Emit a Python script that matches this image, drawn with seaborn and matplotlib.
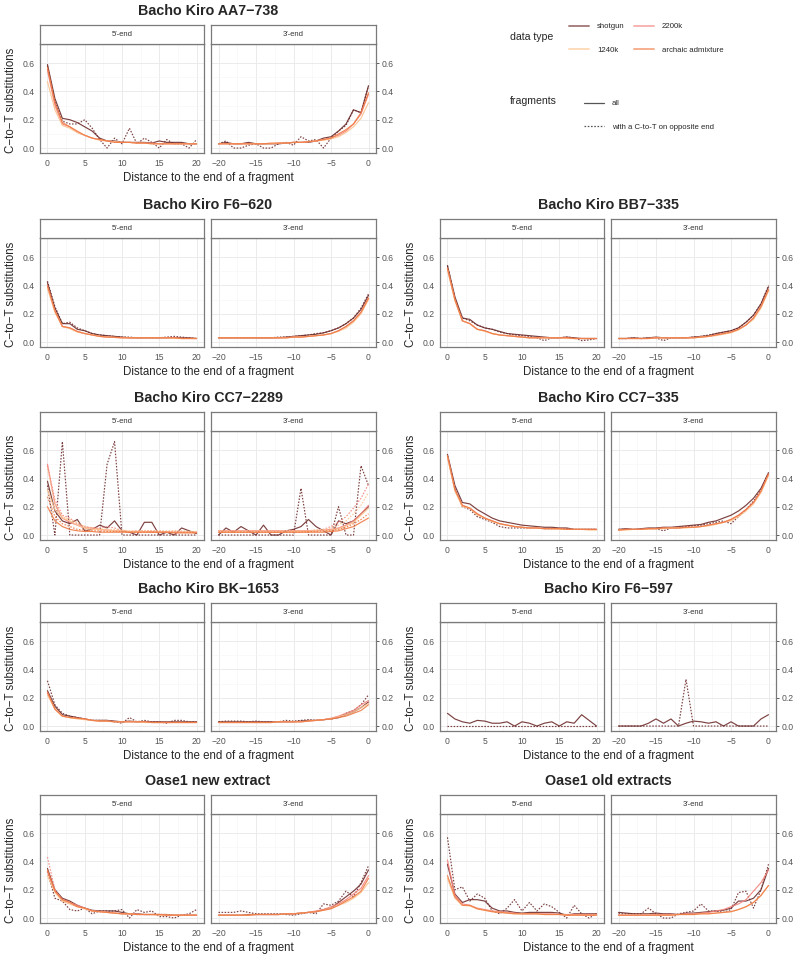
import pandas as pd
import matplotlib
matplotlib.use("Agg")
import matplotlib.pyplot as plt
import seaborn as sns
from matplotlib.lines import Line2D

# --- positions along the read ---
POS_5 = list(range(0, 21))
POS_3 = list(range(-20, 1))

# --- Bacho Kiro AA7-738 ---
AA7_5_SG = [0.59, 0.35, 0.21, 0.20, 0.18, 0.15, 0.12, 0.07, 0.05, 0.05, 0.04, 0.04, 0.04, 0.04, 0.035, 0.05, 0.04, 0.04, 0.04, 0.03, 0.03]
AA7_5_SG_OPP = [0.58, 0.33, 0.19, 0.17, 0.17, 0.20, 0.14, 0.06, 0.00, 0.07, 0.03, 0.14, 0.03, 0.07, 0.04, 0.00, 0.06, 0.03, 0.03, 0.00, 0.06]
AA7_5_2200K = [0.55, 0.30, 0.17, 0.15, 0.11, 0.09, 0.07, 0.06, 0.05, 0.045, 0.04, 0.04, 0.035, 0.035, 0.035, 0.03, 0.03, 0.03, 0.03, 0.03, 0.03]
AA7_5_1240K = [0.47, 0.27, 0.16, 0.14, 0.11, 0.09, 0.07, 0.055, 0.05, 0.045, 0.04, 0.04, 0.035, 0.035, 0.03, 0.03, 0.03, 0.03, 0.03, 0.03, 0.03]
AA7_5_ARCH = [0.57, 0.32, 0.18, 0.15, 0.12, 0.09, 0.07, 0.06, 0.05, 0.04, 0.04, 0.04, 0.035, 0.035, 0.03, 0.03, 0.03, 0.03, 0.03, 0.03, 0.03]
AA7_3_SG = [0.03, 0.04, 0.03, 0.03, 0.04, 0.03, 0.03, 0.03, 0.03, 0.035, 0.04, 0.04, 0.04, 0.05, 0.07, 0.08, 0.12, 0.17, 0.27, 0.25, 0.44]
AA7_3_SG_OPP = [0.03, 0.05, 0.00, 0.00, 0.02, 0.03, 0.00, 0.00, 0.03, 0.04, 0.02, 0.08, 0.05, 0.06, 0.00, 0.07, 0.12, 0.16, 0.27, 0.25, 0.44]
AA7_3_2200K = [0.03, 0.03, 0.03, 0.03, 0.03, 0.03, 0.03, 0.03, 0.035, 0.035, 0.04, 0.04, 0.045, 0.05, 0.06, 0.07, 0.09, 0.12, 0.17, 0.24, 0.38]
AA7_3_1240K = [0.03, 0.03, 0.03, 0.03, 0.03, 0.03, 0.03, 0.03, 0.035, 0.035, 0.04, 0.04, 0.045, 0.05, 0.055, 0.065, 0.08, 0.11, 0.15, 0.21, 0.32]
AA7_3_ARCH = [0.03, 0.03, 0.03, 0.03, 0.03, 0.03, 0.03, 0.035, 0.035, 0.035, 0.04, 0.04, 0.045, 0.05, 0.06, 0.07, 0.10, 0.13, 0.17, 0.25, 0.39]

# --- Bacho Kiro F6-620 ---
F620_5_SG = [0.42, 0.24, 0.13, 0.13, 0.09, 0.08, 0.06, 0.05, 0.045, 0.04, 0.035, 0.03, 0.03, 0.03, 0.03, 0.03, 0.03, 0.03, 0.03, 0.03, 0.025]
F620_5_SG_OPP = [0.43, 0.25, 0.13, 0.14, 0.10, 0.08, 0.06, 0.05, 0.045, 0.04, 0.035, 0.035, 0.03, 0.03, 0.03, 0.03, 0.035, 0.04, 0.035, 0.03, 0.025]
F620_5_2200K = [0.39, 0.22, 0.11, 0.10, 0.075, 0.06, 0.05, 0.04, 0.035, 0.033, 0.03, 0.03, 0.03, 0.03, 0.03, 0.03, 0.03, 0.03, 0.025, 0.025, 0.025]
F620_5_1240K = [0.38, 0.21, 0.11, 0.095, 0.07, 0.06, 0.05, 0.04, 0.035, 0.033, 0.03, 0.03, 0.03, 0.03, 0.03, 0.03, 0.03, 0.025, 0.025, 0.025, 0.025]
F620_5_ARCH = [0.40, 0.22, 0.11, 0.10, 0.075, 0.06, 0.05, 0.04, 0.035, 0.033, 0.03, 0.03, 0.03, 0.03, 0.03, 0.03, 0.03, 0.03, 0.025, 0.025, 0.025]
F620_3_SG = [0.03, 0.03, 0.03, 0.03, 0.03, 0.03, 0.03, 0.03, 0.03, 0.035, 0.04, 0.045, 0.05, 0.055, 0.065, 0.08, 0.10, 0.13, 0.17, 0.23, 0.33]
F620_3_SG_OPP = [0.03, 0.03, 0.03, 0.03, 0.03, 0.03, 0.03, 0.03, 0.035, 0.035, 0.04, 0.045, 0.05, 0.06, 0.065, 0.08, 0.10, 0.13, 0.17, 0.24, 0.34]
F620_3_2200K = [0.03, 0.03, 0.03, 0.03, 0.03, 0.03, 0.03, 0.03, 0.03, 0.03, 0.035, 0.035, 0.04, 0.045, 0.05, 0.06, 0.08, 0.11, 0.15, 0.21, 0.31]
F620_3_1240K = [0.03, 0.03, 0.03, 0.03, 0.03, 0.03, 0.03, 0.03, 0.03, 0.03, 0.035, 0.035, 0.04, 0.045, 0.05, 0.06, 0.075, 0.10, 0.14, 0.20, 0.30]
F620_3_ARCH = [0.03, 0.03, 0.03, 0.03, 0.03, 0.03, 0.03, 0.03, 0.03, 0.03, 0.035, 0.035, 0.04, 0.045, 0.05, 0.06, 0.08, 0.11, 0.15, 0.21, 0.31]

# --- Bacho Kiro BB7-335 ---
BB7_5_SG = [0.54, 0.32, 0.17, 0.16, 0.12, 0.10, 0.09, 0.075, 0.06, 0.055, 0.05, 0.045, 0.04, 0.035, 0.03, 0.03, 0.035, 0.03, 0.025, 0.025, 0.025]
BB7_5_SG_OPP = [0.54, 0.31, 0.17, 0.15, 0.12, 0.10, 0.09, 0.07, 0.06, 0.05, 0.045, 0.04, 0.03, 0.01, 0.03, 0.03, 0.035, 0.03, 0.01, 0.015, 0.025]
BB7_5_2200K = [0.52, 0.30, 0.15, 0.13, 0.09, 0.08, 0.06, 0.05, 0.045, 0.04, 0.035, 0.03, 0.03, 0.03, 0.03, 0.03, 0.03, 0.025, 0.025, 0.025, 0.025]
BB7_5_1240K = [0.51, 0.29, 0.15, 0.13, 0.09, 0.075, 0.06, 0.05, 0.045, 0.04, 0.035, 0.03, 0.03, 0.03, 0.03, 0.03, 0.025, 0.025, 0.025, 0.025, 0.025]
BB7_5_ARCH = [0.52, 0.30, 0.15, 0.13, 0.09, 0.08, 0.06, 0.05, 0.045, 0.04, 0.035, 0.03, 0.03, 0.03, 0.03, 0.03, 0.03, 0.025, 0.025, 0.025, 0.025]
BB7_3_SG = [0.025, 0.025, 0.03, 0.025, 0.03, 0.035, 0.03, 0.03, 0.03, 0.03, 0.035, 0.04, 0.045, 0.06, 0.07, 0.08, 0.10, 0.14, 0.19, 0.27, 0.39]
BB7_3_SG_OPP = [0.025, 0.025, 0.03, 0.025, 0.03, 0.03, 0.01, 0.03, 0.03, 0.03, 0.035, 0.04, 0.05, 0.06, 0.07, 0.08, 0.10, 0.14, 0.19, 0.27, 0.40]
BB7_3_2200K = [0.025, 0.025, 0.025, 0.025, 0.025, 0.03, 0.03, 0.03, 0.03, 0.03, 0.03, 0.035, 0.04, 0.05, 0.06, 0.07, 0.09, 0.12, 0.17, 0.25, 0.37]
BB7_3_1240K = [0.025, 0.025, 0.025, 0.025, 0.025, 0.03, 0.03, 0.03, 0.03, 0.03, 0.03, 0.035, 0.04, 0.045, 0.055, 0.065, 0.085, 0.12, 0.16, 0.24, 0.36]
BB7_3_ARCH = [0.025, 0.025, 0.025, 0.025, 0.025, 0.03, 0.03, 0.03, 0.03, 0.03, 0.03, 0.035, 0.04, 0.05, 0.06, 0.07, 0.09, 0.12, 0.17, 0.25, 0.37]

# --- Bacho Kiro CC7-2289 ---
CC2289_5_SG = [0.38, 0.17, 0.10, 0.08, 0.11, 0.03, 0.04, 0.07, 0.05, 0.10, 0.03, 0.02, 0.00, 0.09, 0.09, 0.00, 0.02, 0.00, 0.05, 0.03, 0.01]
CC2289_5_SG_OPP = [0.35, 0.00, 0.66, 0.00, 0.00, 0.00, 0.00, 0.00, 0.50, 0.66, 0.00, 0.00, 0.00, 0.00, 0.00, 0.00, 0.00, 0.00, 0.00, 0.00, 0.00]
CC2289_5_2200K = [0.50, 0.22, 0.12, 0.09, 0.07, 0.05, 0.05, 0.04, 0.035, 0.03, 0.03, 0.025, 0.025, 0.025, 0.025, 0.02, 0.02, 0.02, 0.02, 0.02, 0.02]
CC2289_5_2200K_OPP = [0.49, 0.25, 0.14, 0.12, 0.08, 0.06, 0.05, 0.05, 0.06, 0.05, 0.03, 0.02, 0.03, 0.03, 0.03, 0.03, 0.02, 0.03, 0.02, 0.02, 0.02]
CC2289_5_1240K = [0.32, 0.18, 0.12, 0.10, 0.07, 0.05, 0.04, 0.04, 0.035, 0.03, 0.03, 0.025, 0.025, 0.025, 0.02, 0.02, 0.02, 0.02, 0.02, 0.02, 0.02]
CC2289_5_1240K_OPP = [0.47, 0.22, 0.13, 0.11, 0.09, 0.06, 0.05, 0.045, 0.04, 0.04, 0.035, 0.03, 0.03, 0.03, 0.03, 0.03, 0.03, 0.03, 0.03, 0.025, 0.025]
CC2289_5_ARCH = [0.20, 0.10, 0.06, 0.04, 0.03, 0.025, 0.025, 0.02, 0.02, 0.02, 0.02, 0.02, 0.02, 0.02, 0.02, 0.02, 0.02, 0.015, 0.015, 0.015, 0.015]
CC2289_5_ARCH_OPP = [0.27, 0.13, 0.08, 0.06, 0.04, 0.035, 0.03, 0.03, 0.025, 0.025, 0.025, 0.02, 0.02, 0.02, 0.02, 0.02, 0.02, 0.02, 0.02, 0.02, 0.02]
CC2289_3_SG = [0.00, 0.05, 0.02, 0.06, 0.03, 0.00, 0.07, 0.00, 0.00, 0.03, 0.04, 0.06, 0.11, 0.06, 0.03, 0.00, 0.10, 0.08, 0.10, 0.15, 0.20]
CC2289_3_SG_OPP = [0.00, 0.00, 0.00, 0.00, 0.00, 0.00, 0.00, 0.00, 0.00, 0.00, 0.00, 0.33, 0.00, 0.00, 0.00, 0.00, 0.20, 0.00, 0.00, 0.49, 0.35]
CC2289_3_2200K = [0.03, 0.03, 0.03, 0.03, 0.03, 0.03, 0.03, 0.03, 0.03, 0.03, 0.03, 0.03, 0.03, 0.03, 0.035, 0.04, 0.05, 0.07, 0.10, 0.15, 0.21]
CC2289_3_2200K_OPP = [0.03, 0.03, 0.03, 0.03, 0.03, 0.03, 0.03, 0.03, 0.03, 0.03, 0.03, 0.03, 0.03, 0.035, 0.04, 0.06, 0.09, 0.13, 0.19, 0.26, 0.36]
CC2289_3_1240K = [0.02, 0.02, 0.02, 0.02, 0.02, 0.02, 0.02, 0.02, 0.02, 0.02, 0.025, 0.025, 0.025, 0.03, 0.03, 0.035, 0.045, 0.065, 0.09, 0.14, 0.19]
CC2289_3_1240K_OPP = [0.03, 0.03, 0.03, 0.03, 0.03, 0.03, 0.03, 0.03, 0.03, 0.03, 0.03, 0.03, 0.03, 0.035, 0.04, 0.05, 0.07, 0.10, 0.15, 0.21, 0.30]
CC2289_3_ARCH = [0.02, 0.02, 0.02, 0.02, 0.02, 0.02, 0.02, 0.02, 0.02, 0.02, 0.02, 0.02, 0.02, 0.02, 0.02, 0.025, 0.03, 0.045, 0.06, 0.09, 0.12]
CC2289_3_ARCH_OPP = [0.02, 0.02, 0.02, 0.02, 0.02, 0.02, 0.02, 0.02, 0.02, 0.02, 0.02, 0.02, 0.025, 0.025, 0.03, 0.03, 0.04, 0.055, 0.08, 0.11, 0.15]

# --- Bacho Kiro CC7-335 ---
CC335_5_SG = [0.57, 0.35, 0.23, 0.22, 0.18, 0.15, 0.12, 0.10, 0.09, 0.08, 0.07, 0.065, 0.06, 0.055, 0.055, 0.05, 0.05, 0.04, 0.04, 0.04, 0.04]
CC335_5_SG_OPP = [0.56, 0.33, 0.20, 0.18, 0.13, 0.11, 0.09, 0.06, 0.05, 0.05, 0.05, 0.05, 0.05, 0.045, 0.045, 0.045, 0.045, 0.04, 0.04, 0.04, 0.04]
CC335_5_2200K = [0.56, 0.32, 0.21, 0.19, 0.15, 0.12, 0.10, 0.08, 0.07, 0.06, 0.055, 0.05, 0.05, 0.045, 0.045, 0.045, 0.04, 0.04, 0.04, 0.04, 0.04]
CC335_5_1240K = [0.55, 0.31, 0.20, 0.19, 0.14, 0.12, 0.095, 0.08, 0.07, 0.06, 0.055, 0.05, 0.05, 0.045, 0.045, 0.04, 0.04, 0.04, 0.04, 0.035, 0.035]
CC335_5_ARCH = [0.56, 0.32, 0.21, 0.19, 0.15, 0.12, 0.10, 0.08, 0.07, 0.06, 0.055, 0.05, 0.05, 0.045, 0.045, 0.045, 0.04, 0.04, 0.04, 0.04, 0.04]
CC335_3_SG = [0.04, 0.045, 0.04, 0.045, 0.05, 0.05, 0.055, 0.055, 0.06, 0.065, 0.07, 0.075, 0.09, 0.10, 0.12, 0.14, 0.17, 0.21, 0.26, 0.33, 0.44]
CC335_3_SG_OPP = [0.04, 0.04, 0.04, 0.04, 0.045, 0.045, 0.03, 0.05, 0.05, 0.06, 0.065, 0.07, 0.08, 0.09, 0.10, 0.08, 0.13, 0.18, 0.24, 0.32, 0.44]
CC335_3_2200K = [0.035, 0.04, 0.04, 0.04, 0.045, 0.045, 0.05, 0.05, 0.05, 0.055, 0.055, 0.06, 0.07, 0.08, 0.09, 0.11, 0.14, 0.18, 0.23, 0.31, 0.43]
CC335_3_1240K = [0.035, 0.035, 0.04, 0.04, 0.04, 0.045, 0.045, 0.05, 0.05, 0.05, 0.055, 0.06, 0.065, 0.075, 0.09, 0.10, 0.13, 0.17, 0.22, 0.30, 0.42]
CC335_3_ARCH = [0.035, 0.04, 0.04, 0.04, 0.045, 0.045, 0.05, 0.05, 0.05, 0.055, 0.055, 0.06, 0.07, 0.08, 0.09, 0.11, 0.14, 0.18, 0.23, 0.31, 0.43]

# --- Bacho Kiro BK-1653 ---
BK_5_SG = [0.25, 0.14, 0.08, 0.07, 0.06, 0.05, 0.04, 0.04, 0.04, 0.035, 0.03, 0.035, 0.03, 0.03, 0.03, 0.03, 0.03, 0.03, 0.03, 0.03, 0.03]
BK_5_SG_OPP = [0.32, 0.15, 0.09, 0.07, 0.06, 0.05, 0.04, 0.04, 0.04, 0.03, 0.02, 0.06, 0.03, 0.04, 0.03, 0.03, 0.02, 0.04, 0.04, 0.03, 0.03]
BK_5_2200K = [0.23, 0.12, 0.07, 0.06, 0.055, 0.05, 0.04, 0.035, 0.035, 0.03, 0.03, 0.03, 0.03, 0.03, 0.025, 0.025, 0.025, 0.025, 0.025, 0.025, 0.025]
BK_5_1240K = [0.22, 0.12, 0.07, 0.06, 0.05, 0.045, 0.04, 0.035, 0.035, 0.03, 0.03, 0.03, 0.03, 0.025, 0.025, 0.025, 0.025, 0.025, 0.025, 0.025, 0.025]
BK_5_ARCH = [0.24, 0.12, 0.07, 0.06, 0.055, 0.05, 0.04, 0.035, 0.035, 0.03, 0.03, 0.03, 0.03, 0.03, 0.025, 0.025, 0.025, 0.025, 0.025, 0.025, 0.025]
BK_3_SG = [0.03, 0.03, 0.03, 0.03, 0.03, 0.03, 0.03, 0.03, 0.03, 0.03, 0.03, 0.035, 0.04, 0.04, 0.045, 0.05, 0.06, 0.08, 0.10, 0.13, 0.17]
BK_3_SG_OPP = [0.03, 0.035, 0.035, 0.035, 0.03, 0.035, 0.03, 0.03, 0.03, 0.04, 0.035, 0.04, 0.045, 0.04, 0.045, 0.05, 0.06, 0.09, 0.11, 0.15, 0.22]
BK_3_2200K = [0.025, 0.025, 0.025, 0.025, 0.025, 0.025, 0.025, 0.025, 0.03, 0.03, 0.03, 0.03, 0.035, 0.04, 0.045, 0.055, 0.07, 0.09, 0.11, 0.15, 0.18]
BK_3_1240K = [0.025, 0.025, 0.025, 0.025, 0.025, 0.025, 0.025, 0.025, 0.03, 0.03, 0.03, 0.03, 0.035, 0.04, 0.045, 0.05, 0.065, 0.08, 0.10, 0.13, 0.16]
BK_3_ARCH = [0.025, 0.025, 0.025, 0.025, 0.025, 0.025, 0.025, 0.025, 0.03, 0.03, 0.03, 0.03, 0.035, 0.04, 0.045, 0.05, 0.06, 0.07, 0.09, 0.11, 0.15]

# --- Bacho Kiro F6-597 (shotgun only) ---
F597_5_SG = [0.09, 0.05, 0.03, 0.02, 0.04, 0.035, 0.02, 0.02, 0.03, 0.00, 0.03, 0.02, 0.00, 0.02, 0.03, 0.00, 0.03, 0.02, 0.08, 0.04, 0.00]
F597_5_SG_OPP = [0.00, 0.00, 0.00, 0.00, 0.00, 0.00, 0.00, 0.00, 0.00, 0.00, 0.00, 0.00, 0.00, 0.00, 0.00, 0.00, 0.00, 0.00, 0.00, 0.00, 0.00]
F597_3_SG = [0.00, 0.00, 0.00, 0.00, 0.02, 0.05, 0.02, 0.05, 0.00, 0.02, 0.035, 0.03, 0.02, 0.03, 0.00, 0.03, 0.00, 0.00, 0.00, 0.05, 0.08]
F597_3_SG_OPP = [0.00, 0.00, 0.00, 0.00, 0.00, 0.00, 0.00, 0.00, 0.00, 0.33, 0.00, 0.00, 0.00, 0.00, 0.00, 0.00, 0.00, 0.00, 0.00, 0.00, 0.00]

# --- Oase1 new extract ---
ON_5_SG = [0.35, 0.20, 0.14, 0.12, 0.09, 0.07, 0.055, 0.05, 0.05, 0.05, 0.04, 0.03, 0.03, 0.025, 0.025, 0.025, 0.025, 0.02, 0.02, 0.02, 0.02]
ON_5_SG_OPP = [0.33, 0.14, 0.12, 0.06, 0.05, 0.07, 0.03, 0.05, 0.05, 0.05, 0.06, 0.00, 0.06, 0.04, 0.05, 0.01, 0.01, 0.00, 0.02, 0.03, 0.06]
ON_5_2200K = [0.33, 0.19, 0.13, 0.11, 0.09, 0.07, 0.05, 0.045, 0.04, 0.035, 0.03, 0.03, 0.025, 0.025, 0.025, 0.025, 0.02, 0.02, 0.02, 0.02, 0.02]
ON_5_2200K_OPP = [0.43, 0.20, 0.12, 0.10, 0.08, 0.07, 0.05, 0.045, 0.04, 0.035, 0.03, 0.03, 0.03, 0.025, 0.025, 0.025, 0.025, 0.02, 0.02, 0.02, 0.02]
ON_5_1240K = [0.30, 0.18, 0.12, 0.10, 0.08, 0.065, 0.05, 0.045, 0.04, 0.035, 0.03, 0.03, 0.025, 0.025, 0.025, 0.02, 0.02, 0.02, 0.02, 0.02, 0.02]
ON_5_ARCH = [0.34, 0.19, 0.13, 0.11, 0.08, 0.07, 0.05, 0.045, 0.04, 0.035, 0.03, 0.03, 0.025, 0.025, 0.025, 0.025, 0.02, 0.02, 0.02, 0.02, 0.02]
ON_3_SG = [0.02, 0.02, 0.02, 0.02, 0.025, 0.025, 0.025, 0.025, 0.025, 0.03, 0.03, 0.035, 0.04, 0.045, 0.06, 0.07, 0.11, 0.15, 0.19, 0.24, 0.34]
ON_3_SG_OPP = [0.04, 0.04, 0.04, 0.05, 0.04, 0.03, 0.03, 0.03, 0.03, 0.025, 0.02, 0.03, 0.04, 0.03, 0.10, 0.09, 0.12, 0.19, 0.15, 0.25, 0.37]
ON_3_2200K = [0.02, 0.02, 0.02, 0.02, 0.02, 0.025, 0.025, 0.025, 0.025, 0.03, 0.03, 0.035, 0.04, 0.05, 0.06, 0.08, 0.10, 0.13, 0.17, 0.21, 0.30]
ON_3_1240K = [0.02, 0.02, 0.02, 0.02, 0.02, 0.025, 0.025, 0.025, 0.025, 0.03, 0.03, 0.035, 0.04, 0.045, 0.055, 0.07, 0.09, 0.11, 0.14, 0.18, 0.25]
ON_3_ARCH = [0.02, 0.02, 0.02, 0.02, 0.02, 0.025, 0.025, 0.025, 0.025, 0.03, 0.03, 0.035, 0.04, 0.045, 0.055, 0.065, 0.09, 0.12, 0.15, 0.19, 0.28]

# --- Oase1 old extracts ---
OO_5_SG = [0.38, 0.17, 0.11, 0.13, 0.13, 0.12, 0.07, 0.05, 0.05, 0.04, 0.035, 0.04, 0.04, 0.04, 0.04, 0.035, 0.02, 0.03, 0.03, 0.03, 0.03]
OO_5_SG_OPP = [0.57, 0.20, 0.22, 0.12, 0.17, 0.14, 0.05, 0.03, 0.07, 0.13, 0.05, 0.11, 0.05, 0.10, 0.08, 0.04, 0.00, 0.09, 0.03, 0.00, 0.03]
OO_5_2200K = [0.41, 0.16, 0.10, 0.09, 0.07, 0.06, 0.05, 0.045, 0.04, 0.035, 0.03, 0.03, 0.03, 0.03, 0.03, 0.025, 0.025, 0.025, 0.025, 0.025, 0.025]
OO_5_1240K = [0.28, 0.14, 0.09, 0.085, 0.065, 0.055, 0.045, 0.04, 0.035, 0.03, 0.03, 0.03, 0.03, 0.025, 0.025, 0.025, 0.02, 0.02, 0.02, 0.02, 0.02]
OO_5_ARCH = [0.30, 0.15, 0.09, 0.09, 0.065, 0.055, 0.045, 0.04, 0.035, 0.03, 0.03, 0.03, 0.03, 0.025, 0.025, 0.025, 0.02, 0.02, 0.02, 0.02, 0.02]
OO_3_SG = [0.04, 0.035, 0.03, 0.03, 0.03, 0.035, 0.03, 0.03, 0.025, 0.035, 0.035, 0.04, 0.045, 0.05, 0.055, 0.07, 0.12, 0.12, 0.14, 0.20, 0.35]
OO_3_SG_OPP = [0.03, 0.03, 0.03, 0.03, 0.07, 0.03, 0.00, 0.00, 0.03, 0.04, 0.05, 0.10, 0.05, 0.05, 0.04, 0.06, 0.18, 0.19, 0.07, 0.20, 0.38]
OO_3_2200K = [0.02, 0.02, 0.02, 0.02, 0.02, 0.025, 0.025, 0.025, 0.025, 0.03, 0.03, 0.035, 0.04, 0.05, 0.06, 0.08, 0.10, 0.13, 0.19, 0.25, 0.34]
OO_3_1240K = [0.02, 0.02, 0.02, 0.02, 0.02, 0.02, 0.02, 0.02, 0.025, 0.025, 0.025, 0.03, 0.03, 0.035, 0.04, 0.045, 0.06, 0.08, 0.11, 0.16, 0.23]
OO_3_ARCH = [0.02, 0.02, 0.02, 0.02, 0.02, 0.02, 0.02, 0.02, 0.025, 0.025, 0.025, 0.03, 0.03, 0.035, 0.04, 0.045, 0.06, 0.08, 0.11, 0.16, 0.23]

DATA_TYPES = ["shotgun", "2200k", "1240k", "archaic admixture"]
LEGEND_ORDER = ["shotgun", "1240k", "2200k", "archaic admixture"]  # 2 columns, row-wise look
FRAG_TYPES = ["all", "with a C-to-T on opposite end"]
PALETTE = {"shotgun": "#6e2c2c", "2200k": "#f4837b",
           "1240k": "#fdc28e", "archaic admixture": "#ef7a43"}

# sample title, grid column, grid row, {(end, data type, fragments): values}
SAMPLES = [
    ("Bacho Kiro AA7\u2212738", 0, 0, {
        ("5", "shotgun", "all"): AA7_5_SG, ("5", "shotgun", "opp"): AA7_5_SG_OPP,
        ("5", "2200k", "all"): AA7_5_2200K, ("5", "1240k", "all"): AA7_5_1240K,
        ("5", "archaic admixture", "all"): AA7_5_ARCH,
        ("3", "shotgun", "all"): AA7_3_SG, ("3", "shotgun", "opp"): AA7_3_SG_OPP,
        ("3", "2200k", "all"): AA7_3_2200K, ("3", "1240k", "all"): AA7_3_1240K,
        ("3", "archaic admixture", "all"): AA7_3_ARCH}),
    ("Bacho Kiro F6\u2212620", 0, 1, {
        ("5", "shotgun", "all"): F620_5_SG, ("5", "shotgun", "opp"): F620_5_SG_OPP,
        ("5", "2200k", "all"): F620_5_2200K, ("5", "1240k", "all"): F620_5_1240K,
        ("5", "archaic admixture", "all"): F620_5_ARCH,
        ("3", "shotgun", "all"): F620_3_SG, ("3", "shotgun", "opp"): F620_3_SG_OPP,
        ("3", "2200k", "all"): F620_3_2200K, ("3", "1240k", "all"): F620_3_1240K,
        ("3", "archaic admixture", "all"): F620_3_ARCH}),
    ("Bacho Kiro BB7\u2212335", 1, 1, {
        ("5", "shotgun", "all"): BB7_5_SG, ("5", "shotgun", "opp"): BB7_5_SG_OPP,
        ("5", "2200k", "all"): BB7_5_2200K, ("5", "1240k", "all"): BB7_5_1240K,
        ("5", "archaic admixture", "all"): BB7_5_ARCH,
        ("3", "shotgun", "all"): BB7_3_SG, ("3", "shotgun", "opp"): BB7_3_SG_OPP,
        ("3", "2200k", "all"): BB7_3_2200K, ("3", "1240k", "all"): BB7_3_1240K,
        ("3", "archaic admixture", "all"): BB7_3_ARCH}),
    ("Bacho Kiro CC7\u22122289", 0, 2, {
        ("5", "shotgun", "all"): CC2289_5_SG, ("5", "shotgun", "opp"): CC2289_5_SG_OPP,
        ("5", "2200k", "all"): CC2289_5_2200K, ("5", "2200k", "opp"): CC2289_5_2200K_OPP,
        ("5", "1240k", "all"): CC2289_5_1240K, ("5", "1240k", "opp"): CC2289_5_1240K_OPP,
        ("5", "archaic admixture", "all"): CC2289_5_ARCH,
        ("5", "archaic admixture", "opp"): CC2289_5_ARCH_OPP,
        ("3", "shotgun", "all"): CC2289_3_SG, ("3", "shotgun", "opp"): CC2289_3_SG_OPP,
        ("3", "2200k", "all"): CC2289_3_2200K, ("3", "2200k", "opp"): CC2289_3_2200K_OPP,
        ("3", "1240k", "all"): CC2289_3_1240K, ("3", "1240k", "opp"): CC2289_3_1240K_OPP,
        ("3", "archaic admixture", "all"): CC2289_3_ARCH,
        ("3", "archaic admixture", "opp"): CC2289_3_ARCH_OPP}),
    ("Bacho Kiro CC7\u2212335", 1, 2, {
        ("5", "shotgun", "all"): CC335_5_SG, ("5", "shotgun", "opp"): CC335_5_SG_OPP,
        ("5", "2200k", "all"): CC335_5_2200K, ("5", "1240k", "all"): CC335_5_1240K,
        ("5", "archaic admixture", "all"): CC335_5_ARCH,
        ("3", "shotgun", "all"): CC335_3_SG, ("3", "shotgun", "opp"): CC335_3_SG_OPP,
        ("3", "2200k", "all"): CC335_3_2200K, ("3", "1240k", "all"): CC335_3_1240K,
        ("3", "archaic admixture", "all"): CC335_3_ARCH}),
    ("Bacho Kiro BK\u22121653", 0, 3, {
        ("5", "shotgun", "all"): BK_5_SG, ("5", "shotgun", "opp"): BK_5_SG_OPP,
        ("5", "2200k", "all"): BK_5_2200K, ("5", "1240k", "all"): BK_5_1240K,
        ("5", "archaic admixture", "all"): BK_5_ARCH,
        ("3", "shotgun", "all"): BK_3_SG, ("3", "shotgun", "opp"): BK_3_SG_OPP,
        ("3", "2200k", "all"): BK_3_2200K, ("3", "1240k", "all"): BK_3_1240K,
        ("3", "archaic admixture", "all"): BK_3_ARCH}),
    ("Bacho Kiro F6\u2212597", 1, 3, {
        ("5", "shotgun", "all"): F597_5_SG, ("5", "shotgun", "opp"): F597_5_SG_OPP,
        ("3", "shotgun", "all"): F597_3_SG, ("3", "shotgun", "opp"): F597_3_SG_OPP}),
    ("Oase1 new extract", 0, 4, {
        ("5", "shotgun", "all"): ON_5_SG, ("5", "shotgun", "opp"): ON_5_SG_OPP,
        ("5", "2200k", "all"): ON_5_2200K, ("5", "2200k", "opp"): ON_5_2200K_OPP,
        ("5", "1240k", "all"): ON_5_1240K, ("5", "archaic admixture", "all"): ON_5_ARCH,
        ("3", "shotgun", "all"): ON_3_SG, ("3", "shotgun", "opp"): ON_3_SG_OPP,
        ("3", "2200k", "all"): ON_3_2200K, ("3", "1240k", "all"): ON_3_1240K,
        ("3", "archaic admixture", "all"): ON_3_ARCH}),
    ("Oase1 old extracts", 1, 4, {
        ("5", "shotgun", "all"): OO_5_SG, ("5", "shotgun", "opp"): OO_5_SG_OPP,
        ("5", "2200k", "all"): OO_5_2200K, ("5", "1240k", "all"): OO_5_1240K,
        ("5", "archaic admixture", "all"): OO_5_ARCH,
        ("3", "shotgun", "all"): OO_3_SG, ("3", "shotgun", "opp"): OO_3_SG_OPP,
        ("3", "2200k", "all"): OO_3_2200K, ("3", "1240k", "all"): OO_3_1240K,
        ("3", "archaic admixture", "all"): OO_3_ARCH}),
]

# long table for seaborn
rows = []
for title, _, _, series in SAMPLES:
    for (end, dtype, frag), vals in series.items():
        pos = POS_5 if end == "5" else POS_3
        for p, v in zip(pos, vals):
            rows.append((title, end, dtype, frag, p, v))
df = pd.DataFrame(rows, columns=["sample", "end", "dtype", "frag", "pos", "ctot"])

sns.set_theme(style="white")
plt.rcParams["font.family"] = ["Liberation Sans", "DejaVu Sans"]

W, H = 800, 965
fig = plt.figure(figsize=(W / 100, H / 100), dpi=100)


def box(x0, y0, w, h):
    # pixel box (top-left origin) -> figure fraction
    return [x0 / W, 1 - (y0 + h) / H, w / W, h / H]


STRIP_BOTTOM = [44, 238, 431, 622, 814]
PANEL_H = 109
STRIP_H = 19
FACET_X = [(40, 164), (211, 165)]
BORDER = "#7a7a7a"

for title, col, row, series in SAMPLES:
    xo = col * 400
    sb = STRIP_BOTTOM[row]
    for i, end in enumerate(["5", "3"]):
        fx, fw = FACET_X[i]
        ax = fig.add_axes(box(xo + fx, sb, fw, PANEL_H))
        sub = df[(df["sample"] == title) & (df["end"] == end)]
        sns.lineplot(data=sub, x="pos", y="ctot", hue="dtype", style="frag",
                     hue_order=DATA_TYPES, style_order=["all", "opp"],
                     palette=PALETTE, dashes={"all": "", "opp": (1.3, 1.3)},
                     estimator=None, sort=True, lw=0.85, alpha=0.9,
                     legend=False, ax=ax)
        if end == "5":
            ax.set_xlim(-1, 21)
            ax.set_xticks([0, 5, 10, 15, 20])
            ax.set_xticks([2.5, 7.5, 12.5, 17.5], minor=True)
        else:
            ax.set_xlim(-21, 1)
            ax.set_xticks([-20, -15, -10, -5, 0])
            ax.set_xticks([-17.5, -12.5, -7.5, -2.5], minor=True)
            ax.yaxis.tick_right()
        ax.set_ylim(-0.035, 0.735)
        ax.set_yticks([0.0, 0.2, 0.4, 0.6])
        ax.set_yticklabels(["0.0", "0.2", "0.4", "0.6"])
        ax.set_yticks([0.1, 0.3, 0.5], minor=True)
        ax.grid(which="major", color="#ebebeb", lw=0.7)
        ax.grid(which="minor", color="#f5f5f5", lw=0.4)
        ax.set_axisbelow(True)
        ax.set_xlabel("")
        ax.set_ylabel("")
        for s in ax.spines.values():
            s.set_color(BORDER)
            s.set_linewidth(0.9)
        ax.tick_params(which="major", length=2.5, width=0.6, color="#444444",
                       labelsize=6.2, labelcolor="#555555", pad=1.5)
        ax.tick_params(which="minor", length=0)

        # facet strip
        st = fig.add_axes(box(xo + fx, sb - STRIP_H, fw, STRIP_H))
        st.set_facecolor("white")
        st.set_xticks([])
        st.set_yticks([])
        for s in st.spines.values():
            s.set_color(BORDER)
            s.set_linewidth(0.9)
        st.text(0.5, 0.5, "5\u2032-end" if end == "5" else "3\u2032-end", ha="center",
                va="center", fontsize=5.5, color="#333333", transform=st.transAxes)

    fig.text((xo + 208) / W, 1 - (sb - 33) / H, title, ha="center", va="center",
             fontsize=10.3, fontweight="bold")
    fig.text((xo + 208) / W, 1 - (sb + 134) / H, "Distance to the end of a fragment",
             ha="center", va="center", fontsize=8.3)
    fig.text((xo + 11) / W, 1 - (sb + 56) / H, "C\u2212to\u2212T substitutions",
             ha="center", va="center", rotation=90, fontsize=8.3)

# legends (top right)
dtype_handles = [Line2D([], [], color=PALETTE[t], lw=1.4, alpha=0.6) for t in LEGEND_ORDER]
fig.legend(dtype_handles, LEGEND_ORDER, loc="upper left",
           bbox_to_anchor=(565 / W, 1 - 19 / H), ncol=2, frameon=False,
           fontsize=5.6, handlelength=2.6, handletextpad=1.0, columnspacing=1.2,
           labelspacing=2.1, borderpad=0)
fig.text(510 / W, 1 - 37 / H, "data type", ha="left", va="center", fontsize=7.6)

frag_handles = [Line2D([], [], color="#555555", lw=0.9),
                Line2D([], [], color="#555555", lw=0.9, linestyle=(0, (1.3, 1.3)))]
fig.legend(frag_handles, FRAG_TYPES, loc="upper left",
           bbox_to_anchor=(580 / W, 1 - 96 / H), frameon=False, fontsize=5.6,
           handlelength=2.6, handletextpad=1.0, labelspacing=2.1, borderpad=0)
fig.text(510 / W, 1 - 101 / H, "fragments", ha="left", va="center", fontsize=7.6)

fig.savefig("out.png", dpi=100, facecolor="white")
